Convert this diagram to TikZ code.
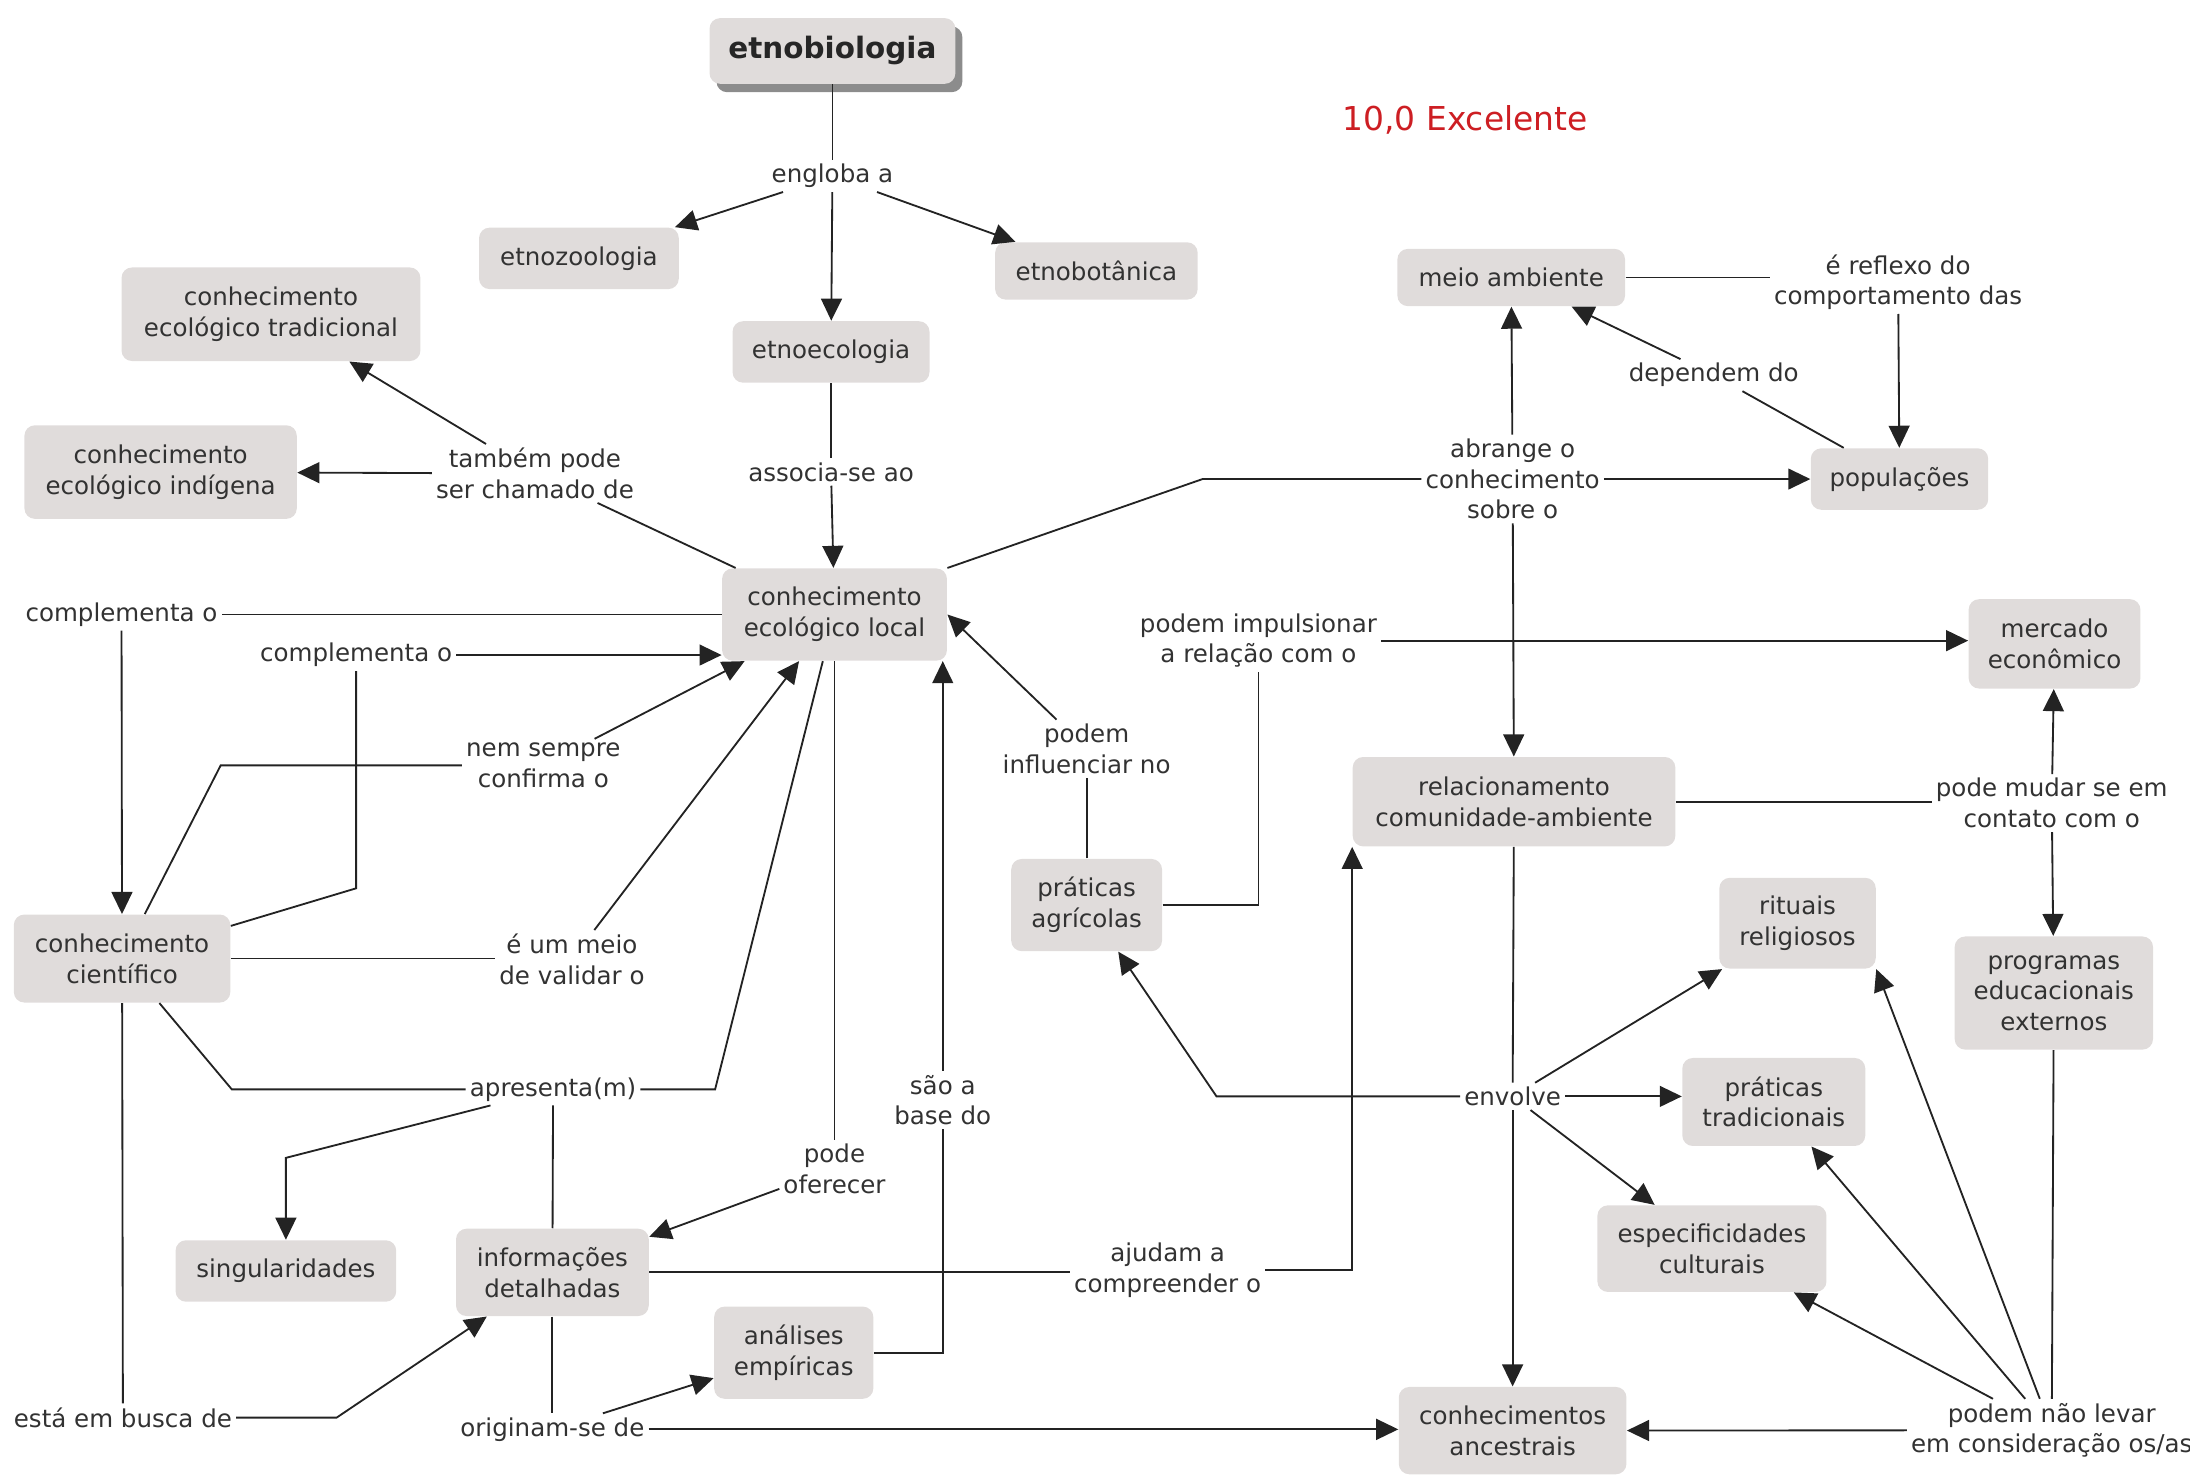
\documentclass[tikz,border=0pt]{standalone}
\usepackage{fontspec}
\setmainfont{DejaVu Sans}
\usetikzlibrary{arrows.meta,calc}
\definecolor{boxfill}{RGB}{224,220,219}
\definecolor{ink}{RGB}{35,35,35}
\definecolor{txt}{RGB}{50,50,50}
\definecolor{shadowgray}{RGB}{140,140,140}
\definecolor{gradered}{RGB}{205,30,35}
\tikzset{
  concept/.style={fill=boxfill, rounded corners=0.15cm, inner sep=0pt, align=center, text=txt, font=\fontsize{10}{12.5}\selectfont},
  sz/.style 2 args={minimum width=#1*0.02cm, minimum height=#2*0.02cm},
  lbl/.style={inner sep=1.5pt, align=center, text=txt, font=\fontsize{10}{12.5}\selectfont},
  link/.style={draw=ink, line width=0.75pt},
  arr/.style={link, -{Triangle[length=9pt,width=8.5pt]}},
}
\begin{document}
\begin{tikzpicture}[x=0.02cm,y=-0.02cm]
\useasboundingbox (0,0) rectangle (1568,1058.2);

% shadow of the root concept
\fill[shadowgray, rounded corners=0.15cm] (513,19) rectangle (689,66);

% concepts
\node[concept, sz={176}{47}, font=\bfseries\fontsize{12}{14}\selectfont, text=black!85] (e) at (596,36.5) {etnobiologia};
\node[concept, sz={143}{44}] (ez) at (414.5,185) {etnozoologia};
\node[concept, sz={145}{41}] (eb) at (785,194) {etnobotânica};
\node[concept, sz={141}{44}] (ee) at (595,252) {etnoecologia};
\node[concept, sz={214}{67}] (cet) at (194,225) {conhecimento\\ecológico tradicional};
\node[concept, sz={195}{67}] (cei) at (115,338) {conhecimento\\ecológico indígena};
\node[concept, sz={161}{66}] (cel) at (597.5,440) {conhecimento\\ecológico local};
\node[concept, sz={163}{41}] (ma) at (1082,198.7) {meio ambiente};
\node[concept, sz={127}{44}] (pop) at (1360,343) {populações};
\node[concept, sz={123}{64}] (me) at (1471,461) {mercado\\econômico};
\node[concept, sz={231}{64}] (rel) at (1084,574) {relacionamento\\comunidade-ambiente};
\node[concept, sz={108}{66}] (pa) at (778,648) {práticas\\agrícolas};
\node[concept, sz={112}{65}] (rit) at (1287,661) {rituais\\religiosos};
\node[concept, sz={142}{81}] (prog) at (1470.5,711) {programas\\educacionais\\externos};
\node[concept, sz={131}{63}] (pt) at (1270,789) {práticas\\tradicionais};
\node[concept, sz={164}{62}] (esp) at (1225.7,894) {especificidades\\culturais};
\node[concept, sz={163}{62.5}] (ca) at (1083,1024.3) {conhecimentos\\ancestrais};
\node[concept, sz={155}{63}] (cc) at (87.4,686.3) {conhecimento\\científico};
\node[concept, sz={158}{44}] (sing) at (204.7,910) {singularidades};
\node[concept, sz={138}{62.5}] (info) at (395.5,911) {informações\\detalhadas};
\node[concept, sz={114}{66}] (ana) at (568.3,968.5) {análises\\empíricas};

% linking phrases
\node[lbl] (l1) at (596,126) {engloba a};
\node[lbl] (l2) at (595,338) {associa-se ao};
\node[lbl] (l3) at (383,339) {também pode\\ser chamado de};
\node[lbl] (l4) at (1083,343) {abrange o\\conhecimento\\sobre o};
\node[lbl] (l5) at (1359,202) {é reflexo do\\comportamento das};
\node[lbl] (l6) at (1227,268.6) {dependem do};
\node[lbl] (l7) at (901,458.7) {podem impulsionar\\a relação com o};
\node[lbl] (l8) at (778,536) {podem\\influenciar no};
\node[lbl] (l9) at (1469,575) {pode mudar se em\\contato com o};
\node[lbl] (l10) at (1083,785) {envolve};
\node[lbl] (l11) at (1469,1024) {podem não levar\\em consideração os/as};
\node[lbl] (l12) at (87,440) {complementa o};
\node[lbl] (l13) at (255,469) {complementa o};
\node[lbl] (l14) at (389,548) {nem sempre\\confirma o};
\node[lbl] (l15) at (409.5,687) {é um meio\\de validar o};
\node[lbl] (l16) at (396,780) {apresenta(m)};
\node[lbl] (l17) at (675,787.7) {são a\\base do};
\node[lbl] (l18) at (597.5,836.7) {pode\\oferecer};
\node[lbl] (l19) at (836,909.4) {ajudam a\\compreender o};
\node[lbl] (l20) at (88,1015) {está em busca de};
\node[lbl] (l21) at (395.5,1023.4) {originam-se de};
\node[text=gradered, font=\fontsize{13.4}{16}\selectfont, inner sep=0pt] (score) at (1049,86) {10,0 Excelente};

% bend points
\coordinate (b1) at (861,343);
\coordinate (b2) at (255,636);
\coordinate (b3) at (158,548);
\coordinate (b4) at (166,780);
\coordinate (b5) at (512,780);
\coordinate (b6) at (204.7,829);
\coordinate (b7) at (675,968.5);
\coordinate (b8) at (901,648);
\coordinate (b10) at (871,785);
\coordinate (b11) at (241,1015);

% connectors
\draw[link] (e) -- (l1);
\draw[arr] (l1) -- (ez);
\draw[arr] (l1) -- (eb);
\draw[arr] (l1) -- (ee);
\draw[link] (ee) -- (l2);
\draw[arr] (l2) -- (cel);
\draw[link] (cel) -- (l3);
\draw[arr] (l3) -- (cet);
\draw[arr] (l3) -- (cei);

\draw[link] (cel.north east) -- (b1) -- (l4);
\draw[arr] (l4) -- (ma);
\draw[arr] (l4) -- (pop);
\draw[arr] (l4) -- (rel);
\draw[link] (ma.east) -- (ma.east -| l5.west);
\draw[arr] (l5) -- (pop);
\draw[link] (pop) -- (l6);
\draw[arr] (l6) -- (ma);

\draw[link] (cel.west) -- (cel.west -| l12.east);
\draw[arr] (l12) -- (cc);
\draw[link] (cc) -- (b2) -- (l13);
\draw[arr] (l13.east) -- (l13.east -| cel.west);
\draw[link] (cc) -- (b3) -- (l14);
\draw[arr] (l14) -- (cel);
\draw[link] (cc.east) -- (cc.east -| l15.west);
\draw[arr] (l15) -- (cel);
\draw[link] (cc) -- (b4) -- (l16);
\draw[link] (cel) -- (b5) -- (l16);
\draw[link] (info) -- (l16);
\draw[arr] (l16) -- (b6) -- (sing);
\draw[link] (cel) -- (l18);
\draw[arr] (l18) -- (info);
\draw[link] (ana.east) -- (b7) -- (l17);
\draw[arr] (l17) -- (l17 |- cel.south);
\draw[link] (pa) -- (l8);
\draw[arr] (l8) -- (cel.east);
\draw[link] (pa.east) -- (b8) -- (l7);
\draw[arr] (l7.east) -- (l7.east -| me.west);
\draw[link] (info.east) -- (info.east -| l19.west);
\draw[arr] (l19.east) -| (rel.south west);

\draw[link] (rel.east) -- (rel.east -| l9.west);
\draw[arr] (l9) -- (me);
\draw[arr] (l9) -- (prog);
\draw[link] (rel) -- (l10);
\draw[arr] (l10) -- (ca);
\draw[arr] (l10.west) -- (b10) -- (pa);
\draw[arr] (l10) -- (rit);
\draw[arr] (l10.east) -- (l10.east -| pt.west);
\draw[arr] (l10) -- (esp);
\draw[link] (prog) -- (l11);
\draw[arr] (l11) -- (ca);
\draw[arr] (l11) -- (esp);
\draw[arr] (l11) -- (pt);
\draw[arr] (l11) -- (rit.south east);

\draw[link] (cc) -- (l20);
\draw[arr] (l20.east) -- (b11) -- (info);
\draw[link] (info) -- (l21);
\draw[arr] (l21) -- (ana);
\draw[arr] (l21.east) -- (l21.east -| ca.west);
\end{tikzpicture}
\end{document}
